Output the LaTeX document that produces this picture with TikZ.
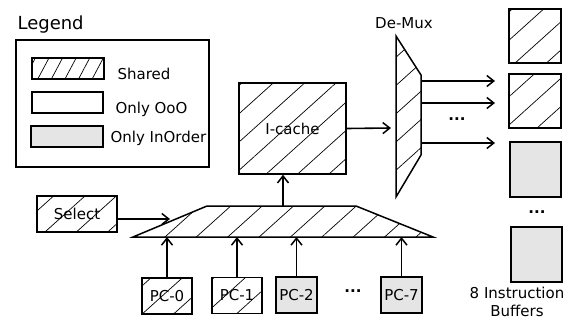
\documentclass[tikz,border=0pt]{standalone}
\usepackage{fontspec}
\setmainfont{DejaVu Sans}
\usepackage{tikz}
\usetikzlibrary{patterns.meta,arrows.meta}

\begin{document}
\begin{tikzpicture}[
    x=1pt, y=-1pt,
    >={Straight Barb[length=7pt,width=11pt,line width=1.5pt]},
    every node/.style={font=\fontsize{15}{18}\selectfont},
    hatch/.style={pattern={Lines[angle=42,distance=21pt,line width=0.7pt]}},
    box/.style={rectangle, draw, line width=1.5pt, inner sep=0pt},
    shared/.style={box, hatch},
    ooo/.style={box, fill=white},
    inorder/.style={box, fill=gray!20},
    link/.style={->, line width=1.6pt}
]
\useasboundingbox (0,0) rectangle (570,329);

% legend
\node[anchor=base west, font=\fontsize{18}{20}\selectfont] (legendtitle) at (14,30) {Legend};
\node (legend) [rectangle, draw, line width=1.1pt, minimum width=193, minimum height=127] at (112.5,103.5) {};
\node (swshared) [box, line width=1.1pt, pattern={Lines[angle=62,distance=12pt,line width=0.7pt]}, minimum width=72, minimum height=21] at (68,68.5) {};
\node (swooo) [ooo, line width=1.1pt, minimum width=71, minimum height=21] at (67.5,102.5) {};
\node (swinorder) [inorder, line width=1.1pt, minimum width=72, minimum height=21] at (67,136.5) {};
\node[anchor=west] (lblshared) at (114,74) {Shared};
\node[anchor=west] (lblooo) at (112,109) {Only OoO};
\node[anchor=west] (lblinorder) at (107,138) {Only InOrder};

% fetch path
\node (select) [shared, minimum width=80, minimum height=36] at (77,214) {Select};
\node (icache) [shared, minimum width=107, minimum height=91] at (292.5,128.5) {I-cache};

\node (pc0) [shared, minimum width=50, minimum height=36] at (167,296) {PC-0};
\node (pc1) [shared, minimum width=50, minimum height=36] at (237,295.5) {PC-1};
\node (pc2) [inorder, minimum width=41, minimum height=36] at (296.5,295) {PC-2};
\node (pcdots) at (353,291) {\textbf{...}};
\node (pc7) [inorder, minimum width=41, minimum height=36] at (401.5,295) {PC-7};

% mux and de-mux
\coordinate (mux-bl) at (133,237);
\coordinate (mux-tl) at (207,206);
\coordinate (mux-tr) at (356,206);
\coordinate (mux-br) at (433,237);
\draw[line width=1.5pt, hatch] (mux-bl) -- (mux-tl) -- (mux-tr) -- (mux-br) -- cycle;
\coordinate (mux-out) at (283,206);
\coordinate (mux-sel) at (170,219);

\coordinate (dm-tl) at (396,36);
\coordinate (dm-tr) at (421,75);
\coordinate (dm-br) at (421,155);
\coordinate (dm-bl) at (396,197);
\draw[line width=1.5pt, hatch] (dm-tl) -- (dm-tr) -- (dm-br) -- (dm-bl) -- cycle;
\node (demuxlbl) at (404,23) {De-Mux};
\coordinate (dm-in) at (391,128);
\coordinate (dm-o1) at (421,81);
\coordinate (dm-o2) at (421,103);
\coordinate (dm-o3) at (421,143);
\coordinate (buf-in) at (495,0);
\node (outdots) at (457,119) {\textbf{...}};

% instruction buffers
\node (buf1) [shared, minimum width=52, minimum height=54] at (535,36) {};
\node (buf2) [shared, minimum width=52, minimum height=54] at (535,101) {};
\node (buf3) [inorder, minimum width=51, minimum height=55] at (535.5,169.5) {};
\node (bufdots) at (537,212) {\textbf{...}};
\node (buf4) [inorder, minimum width=51, minimum height=55] at (536.5,254.5) {};
\node (buflbl) [align=center] at (517,302) {8 Instruction\\Buffers};

% connections
\draw[link] (select.east |- mux-sel) -- (mux-sel);
\draw[link] (mux-out) -- (mux-out |- icache.south);
\draw[link] (icache.east) -- (dm-in);
\draw[link] (dm-o1) -- (dm-o1 -| buf-in);
\draw[link] (dm-o2) -- (dm-o2 -| buf-in);
\draw[link] (dm-o3) -- (dm-o3 -| buf-in);
\foreach \pc in {pc0,pc1,pc2,pc7}
    \draw[link] (\pc.north) -- (\pc.north |- mux-bl);
\end{tikzpicture}
\end{document}
